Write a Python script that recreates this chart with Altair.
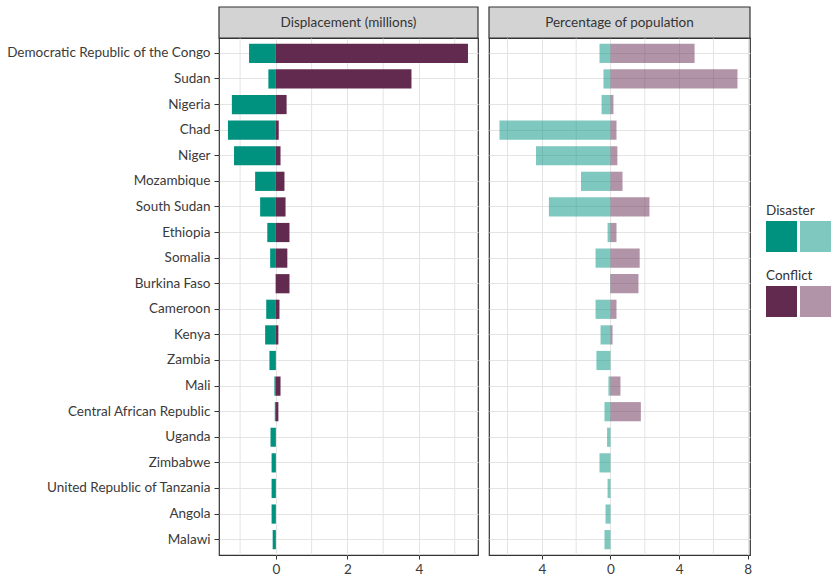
import altair as alt
import pandas as pd

countries = [
    "Democratic Republic of the Congo", "Sudan", "Nigeria", "Chad", "Niger",
    "Mozambique", "South Sudan", "Ethiopia", "Somalia", "Burkina Faso",
    "Cameroon", "Kenya", "Zambia", "Mali", "Central African Republic",
    "Uganda", "Zimbabwe", "United Republic of Tanzania", "Angola", "Malawi",
]
# displacement in millions
disp_disaster = [0.75, 0.21, 1.23, 1.34, 1.17, 0.58, 0.44, 0.24, 0.16, 0.01,
                 0.27, 0.30, 0.18, 0.04, 0.03, 0.15, 0.12, 0.12, 0.12, 0.09]
disp_conflict = [5.37, 3.79, 0.30, 0.08, 0.13, 0.24, 0.27, 0.38, 0.32, 0.38,
                 0.10, 0.07, 0.0, 0.13, 0.07, 0.0, 0.0, 0.0, 0.0, 0.0]
# percentage of population
pct_disaster = [0.64, 0.41, 0.52, 6.47, 4.34, 1.72, 3.59, 0.17, 0.87, 0.02,
                0.87, 0.58, 0.82, 0.12, 0.35, 0.20, 0.64, 0.17, 0.29, 0.35]
pct_conflict = [4.90, 7.40, 0.17, 0.35, 0.40, 0.70, 2.27, 0.35, 1.70, 1.63,
                0.35, 0.12, 0.0, 0.58, 1.77, 0.0, 0.0, 0.0, 0.0, 0.0]

left_ticks = [0, 2, 4]
left_minor = [-1, 1, 3, 5]
right_ticks = [-4, 0, 4, 8]
right_minor = [-6, -2, 2, 6]
panel_titles = ["Displacement (millions)", "Percentage of population"]
types = ["Disaster", "Conflict"]
dark_colors = ["#00917f", "#632a50"]

rows = []
for i, c in enumerate(countries):
    rows.append(dict(country=c, type="Disaster", disp=-disp_disaster[i], pct=-pct_disaster[i], base=0))
    rows.append(dict(country=c, type="Conflict", disp=disp_conflict[i], pct=pct_conflict[i], base=0))
df = pd.DataFrame(rows)

FONT = "Lato"
GRID = "#e4e4e4"
W1, W2, H = 259, 261, 517
HEAD = 31

color = alt.Color("type:N", scale=alt.Scale(domain=types, range=dark_colors), legend=None)
yscale = alt.Scale(paddingInner=0.25, paddingOuter=0.225)


def panel(field, width, domain, ticks, minor, title, show_y, label_expr, opacity):
    xs = alt.Scale(domain=domain, nice=False, zero=False)
    xaxis = alt.Axis(values=ticks, grid=True, labelExpr=label_expr, tickSize=4,
                     labelPadding=3, labelFontSize=13.5, labelColor="#3a3a3a", domain=False)
    grid = alt.Chart(pd.DataFrame({"v": minor})).mark_rule(color=GRID, strokeWidth=1).encode(
        x=alt.X("v:Q", scale=xs, axis=xaxis, title=None)
    )
    if show_y:
        yaxis = alt.Axis(grid=True, domain=False, tickSize=5, labelPadding=4, labelFontSize=13.5,
                         labelColor="#3a3a3a", labelLimit=400)
    else:
        yaxis = alt.Axis(labels=False, ticks=False, grid=True, domain=False, tickSize=0,
                         labelPadding=0, offset=0)
    bars = alt.Chart(df).mark_bar(opacity=opacity).encode(
        y=alt.Y("country:N", sort=countries, scale=yscale, axis=yaxis, title=None),
        x=alt.X(f"{field}:Q", scale=xs, title=None, axis=xaxis),
        x2="base:Q",
        color=color,
    )
    tdf = pd.DataFrame({"t": [title]})
    head = alt.Chart(tdf).mark_rect(fill="#d3d3d3", stroke="#333333", strokeWidth=1.2).encode(
        x=alt.value(0), x2=alt.value(width), y=alt.value(-HEAD), y2=alt.value(0)
    )
    htext = alt.Chart(tdf).mark_text(font=FONT, fontSize=13.5, color="#333333", baseline="middle").encode(
        x=alt.value(width / 2), y=alt.value(-HEAD / 2), text="t:N"
    )
    return [grid, bars, head, htext]


left_layers = panel("disp", W1, [-1.59, 5.65], left_ticks, left_minor, panel_titles[0], True,
                    "datum.value", 1.0)
right_layers = panel("pct", W2, [-7.08, 8.13], right_ticks, right_minor, panel_titles[1], False,
                     "abs(datum.value)", 0.5)

# manual legend (two shades per type)
legend_layers = []
lx = W2 + 16
for k, t in enumerate(types):
    ty = 177 + k * 65
    ldf = pd.DataFrame({"t": [t]})
    legend_layers.append(
        alt.Chart(ldf).mark_text(font=FONT, fontSize=13.5, color="#333333", align="left", baseline="alphabetic")
        .encode(x=alt.value(lx), y=alt.value(ty), text="t:N")
    )
    for j, op in enumerate([1.0, 0.5]):
        legend_layers.append(
            alt.Chart(ldf).mark_rect(color=dark_colors[k], opacity=op)
            .encode(x=alt.value(lx + j * 34), x2=alt.value(lx + j * 34 + 31),
                    y=alt.value(ty + 6), y2=alt.value(ty + 37))
        )

left = alt.layer(*left_layers).properties(width=W1, height=H)
right = alt.layer(*(right_layers + legend_layers)).properties(width=W2, height=H)

chart = alt.hconcat(left, right, spacing=7).properties(
    padding={"left": 5, "top": 5, "right": 5, "bottom": 5}
).configure_view(
    stroke="#333333", strokeWidth=1.2
).configure_axis(
    gridColor=GRID, gridWidth=1, tickColor="#333333", labelFont=FONT
).configure_text(font=FONT)

chart.save("out.html", embed_options={"renderer": "svg", "actions": False})
